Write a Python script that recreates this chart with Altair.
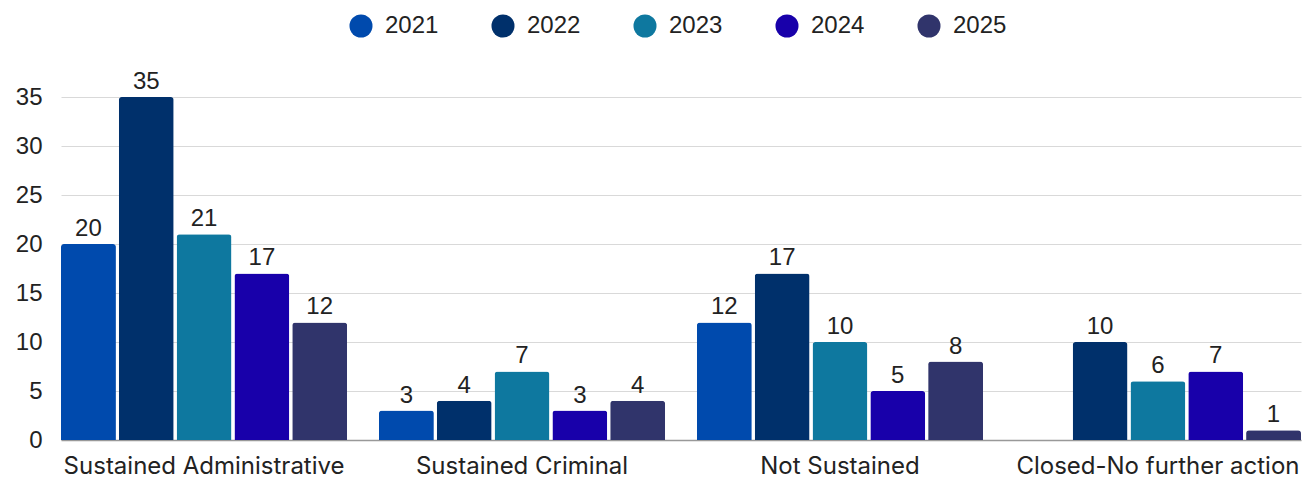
import altair as alt
import pandas as pd

categories = ["Sustained Administrative", "Sustained Criminal", "Not Sustained", "Closed-No further action"]
years = ["2021", "2022", "2023", "2024", "2025"]
colors = ["#004AAD", "#00306B", "#0E789F", "#1800AA", "#30346B"]
values = {
    "2021": [20, 3, 12, None],
    "2022": [35, 4, 17, 10],
    "2023": [21, 7, 10, 6],
    "2024": [17, 3, 5, 7],
    "2025": [12, 4, 8, 1],
}

rows = []
for y in years:
    for c, v in zip(categories, values[y]):
        if v is not None:
            rows.append({"category": c, "year": y, "value": v})
df = pd.DataFrame(rows)

x = alt.X("category:N", sort=categories, title=None,
          scale=alt.Scale(paddingInner=0.1, paddingOuter=0),
          axis=alt.Axis(labelAngle=0, labelFont="Inter", labelFontSize=24, labelColor="#222",
                        labelPadding=14, labelLimit=0, ticks=False, domain=True, domainColor="#999",
                        domainWidth=1.5, grid=False))
xo = alt.XOffset("year:N", sort=years, scale=alt.Scale(paddingInner=0.05, paddingOuter=0))

base = alt.Chart(df).encode(x=x, xOffset=xo)

bars = base.mark_bar(cornerRadiusTopLeft=3, cornerRadiusTopRight=3).encode(
    y=alt.Y("value:Q", title=None, scale=alt.Scale(domain=[0, 35], nice=False),
            axis=alt.Axis(values=[0, 5, 10, 15, 20, 25, 30, 35], labelFont="Liberation Sans",
                          labelFontSize=24, labelColor="#222", labelPadding=19, ticks=False,
                          domain=False, gridColor="#d9d9d9", gridWidth=1.2)),
    color=alt.Color("year:N", sort=years, scale=alt.Scale(domain=years, range=colors),
                    legend=alt.Legend(title=None, orient="none", direction="horizontal",
                                      legendX=288, legendY=-83, symbolType="circle",
                                      symbolSize=530, symbolStrokeWidth=0, labelFont="Liberation Sans",
                                      labelFontSize=24, labelColor="#222", labelOffset=12,
                                      columnPadding=52)),
)

labels = base.mark_text(baseline="bottom", dy=-3, font="Liberation Sans", fontSize=24, color="#222").encode(
    y=alt.Y("value:Q"),
    text=alt.Text("value:Q"),
)

chart = (bars + labels).properties(
    width=1240, height=343,
    background="white",
    autosize=alt.AutoSizeParams(type="none"),
    padding={"left": 61, "top": 97, "right": 13, "bottom": 39},
).configure_view(strokeWidth=0, stroke=None).configure_axisY(domain=False)

chart.save("out.html", embed_options={"renderer": "svg", "actions": False})
